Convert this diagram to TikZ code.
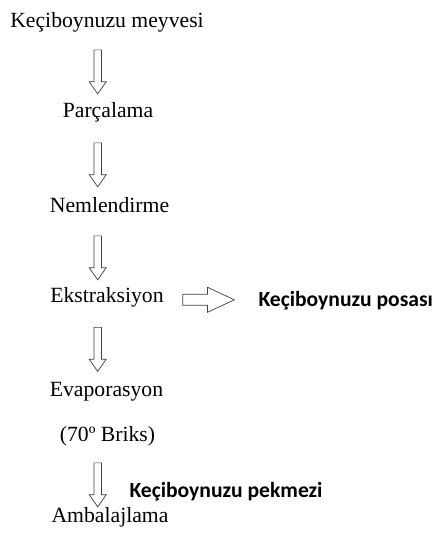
\documentclass[tikz,border=0pt]{standalone}
\usepackage{fontspec}
\setmainfont{Liberation Serif}
\newfontfamily\boldsans{Carlito}
\usetikzlibrary{shapes.arrows}

\begin{document}
\begin{tikzpicture}[
  x=1pt, y=-1pt,
  stage/.style={font=\fontsize{21.7}{26}\selectfont, inner sep=0pt, anchor=base},
  note/.style={font=\boldsans\bfseries\fontsize{21.6}{25}\selectfont, inner sep=0pt, anchor=base west},
  downarr/.style={single arrow, draw=black!75, line width=0.7pt, shape border rotate=270,
    minimum height=44pt, minimum width=17pt, single arrow head extend=4.25pt,
    single arrow tip angle=70, inner sep=3pt, anchor=tail},
  sidearr/.style={single arrow, draw=black!75, line width=0.7pt,
    minimum height=51.7pt, minimum width=25pt, single arrow head extend=6.15pt,
    single arrow tip angle=50, inner sep=4.5pt, anchor=tail},
]
\useasboundingbox (0,0) rectangle (433,538);

\node[stage] (meyve) at (107,27.3) {Keçiboynuzu meyvesi};
\node[stage] (parca) at (108,117.3) {Parçalama};
\node[stage] (nem) at (109.5,212.7) {Nemlendirme};
\node[stage] (ekst) at (107,302.7) {Ekstraksiyon};
\node[stage] (evap) at (106.5,396.7) {Evaporasyon};
\node[stage] (briks) at (107.5,441) {(70º Briks)};
\node[stage] (amb) at (110,522.7) {Ambalajlama};

\node[note] (posa) at (258.3,306) {Keçiboynuzu posası};
\node[note] (pekmez) at (129.3,497.7) {Keçiboynuzu pekmezi};

% process arrows
\node[downarr] (a1) at (97.7,49.5) {};
\node[downarr] (a2) at (97.7,142.5) {};
\node[downarr] (a3) at (97.7,235.5) {};
\node[downarr] (a4) at (97.7,327) {};
\node[downarr] (a5) at (97.7,462.5) {};
\node[sidearr] (a6) at (182.3,299.8) {};
\end{tikzpicture}
\end{document}
